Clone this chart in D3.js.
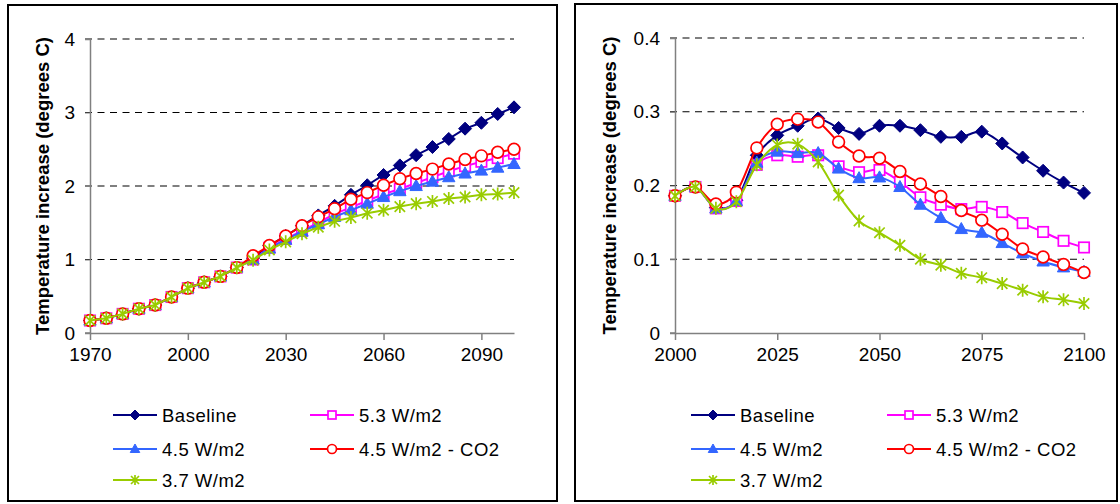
<!DOCTYPE html>
<html>
<head>
<meta charset="utf-8">
<script src="https://cdn.jsdelivr.net/npm/d3@7"></script>
<style>
  body { margin: 0; background: #fff; }
  svg { display: block; font-family: "Liberation Sans", Arial, sans-serif; }
</style>
</head>
<body>
<svg id="chart" width="1120" height="504"></svg>
<script>
// ---- data: left panel (temperature increase, 1970-2100) ----
const yearsA = [1970, 1975, 1980, 1985, 1990, 1995, 2000, 2005, 2010, 2015, 2020, 2025, 2030, 2035,
    2040, 2045, 2050, 2055, 2060, 2065, 2070, 2075, 2080, 2085, 2090, 2095, 2100];
const baselineA = [0.17, 0.20, 0.26, 0.33, 0.38, 0.49, 0.61, 0.69, 0.77, 0.89, 1.02, 1.19, 1.32, 1.46,
    1.60, 1.73, 1.88, 2.01, 2.15, 2.28, 2.42, 2.53, 2.64, 2.78, 2.86, 2.98, 3.07];
const w53A = [0.17, 0.20, 0.26, 0.33, 0.38, 0.49, 0.61, 0.69, 0.77, 0.89, 1.00, 1.16, 1.28, 1.39,
    1.50, 1.62, 1.71, 1.80, 1.89, 1.96, 2.04, 2.12, 2.20, 2.27, 2.33, 2.38, 2.44];
const w45A = [0.17, 0.20, 0.26, 0.33, 0.38, 0.49, 0.61, 0.69, 0.77, 0.89, 1.00, 1.15, 1.27, 1.38,
    1.48, 1.58, 1.67, 1.76, 1.85, 1.93, 2.00, 2.06, 2.12, 2.17, 2.21, 2.25, 2.30];
const co2A = [0.17, 0.20, 0.26, 0.33, 0.38, 0.49, 0.61, 0.69, 0.77, 0.89, 1.05, 1.19, 1.32, 1.46,
    1.58, 1.69, 1.82, 1.91, 2.01, 2.10, 2.17, 2.23, 2.30, 2.36, 2.41, 2.46, 2.50];
const w37A = [0.17, 0.20, 0.26, 0.33, 0.38, 0.49, 0.61, 0.69, 0.77, 0.89, 0.99, 1.13, 1.24, 1.35,
    1.44, 1.52, 1.57, 1.63, 1.67, 1.72, 1.76, 1.79, 1.83, 1.85, 1.88, 1.89, 1.91];
const xTicksA = [1970, 2000, 2030, 2060, 2090];
const yTicksA = [0, 1, 2, 3, 4];

// ---- data: right panel (2000-2100) ----
const yearsB = [2000, 2005, 2010, 2015, 2020, 2025, 2030, 2035, 2040, 2045, 2050,
    2055, 2060, 2065, 2070, 2075, 2080, 2085, 2090, 2095, 2100];
const baselineB = [0.186, 0.198, 0.170, 0.180, 0.241, 0.268, 0.281, 0.291, 0.278, 0.270, 0.281,
    0.281, 0.275, 0.266, 0.266, 0.273, 0.257, 0.238, 0.220, 0.204, 0.190];
const w53B = [0.186, 0.198, 0.169, 0.179, 0.228, 0.241, 0.239, 0.241, 0.226, 0.218, 0.221,
    0.205, 0.184, 0.174, 0.168, 0.171, 0.164, 0.149, 0.137, 0.125, 0.116];
const w45B = [0.186, 0.198, 0.169, 0.179, 0.231, 0.246, 0.244, 0.244, 0.223, 0.210, 0.211,
    0.198, 0.174, 0.156, 0.141, 0.136, 0.122, 0.108, 0.097, 0.089, 0.083];
const co2B = [0.186, 0.198, 0.175, 0.191, 0.251, 0.283, 0.290, 0.286, 0.259, 0.240, 0.237,
    0.219, 0.202, 0.185, 0.166, 0.153, 0.134, 0.114, 0.103, 0.093, 0.082];
const w37B = [0.186, 0.198, 0.169, 0.178, 0.228, 0.255, 0.256, 0.232, 0.187, 0.152, 0.136,
    0.119, 0.100, 0.092, 0.081, 0.075, 0.067, 0.058, 0.049, 0.045, 0.040];
const xTicksB = [2000, 2025, 2050, 2075, 2100];
const yTicksB = [0, 0.1, 0.2, 0.3, 0.4];

const seriesNames = ["Baseline", "5.3 W/m2", "4.5 W/m2", "4.5 W/m2 - CO2", "3.7 W/m2"];
const yLabel = "Temperature increase (degrees C)";

// series styles, in Excel drawing order
const styles = [
    { color: "#000080", marker: "diamond" },
    { color: "#FF00FF", marker: "square" },
    { color: "#3366FF", marker: "triangle" },
    { color: "#FF0000", marker: "circle" },
    { color: "#99CC00", marker: "star" }
];

const svg = d3.select("#chart");

function drawMarker(g, type, cx, cy, color, s) {
    if (type === "diamond") {
        g.append("path")
            .attr("d", `M${cx},${cy - s}L${cx + s},${cy}L${cx},${cy + s}L${cx - s},${cy}Z`)
            .attr("fill", color).attr("stroke", color).attr("stroke-width", 1);
    } else if (type === "square") {
        const h = s * 0.8;
        g.append("rect")
            .attr("x", cx - h).attr("y", cy - h).attr("width", 2 * h).attr("height", 2 * h)
            .attr("fill", "#fff").attr("stroke", color).attr("stroke-width", 1.7);
    } else if (type === "triangle") {
        g.append("path")
            .attr("d", `M${cx},${cy - s}L${cx + s * 0.95},${cy + s * 0.7}L${cx - s * 0.95},${cy + s * 0.7}Z`)
            .attr("fill", color).attr("stroke", color).attr("stroke-width", 1);
    } else if (type === "circle") {
        g.append("circle")
            .attr("cx", cx).attr("cy", cy).attr("r", s * 0.9)
            .attr("fill", "#fff").attr("stroke", color).attr("stroke-width", 1.7);
    } else if (type === "star") {
        const d = s * 0.8;
        g.append("path")
            .attr("d", `M${cx - d},${cy - d}L${cx + d},${cy + d}M${cx - d},${cy + d}L${cx + d},${cy - d}M${cx},${cy - s}L${cx},${cy + s}`)
            .attr("fill", "none").attr("stroke", color).attr("stroke-width", 1.7);
    }
}

function drawPanel(cfg) {
    const g = svg.append("g");

    // frame
    g.append("rect")
        .attr("x", cfg.frame[0]).attr("y", cfg.frame[1])
        .attr("width", cfg.frame[2]).attr("height", cfg.frame[3])
        .attr("fill", "#fff").attr("stroke", "#000").attr("stroke-width", 2);

    const x = d3.scaleLinear().domain(cfg.xDomain).range(cfg.xRange);
    const y = d3.scaleLinear().domain(cfg.yDomain).range(cfg.yRange);

    // dashed gridlines
    g.selectAll(".grid")
        .data(cfg.yTicks.filter(d => d > 0))
        .enter().append("line")
        .attr("x1", cfg.xRange[0] - 5).attr("x2", cfg.xRange[1])
        .attr("y1", d => y(d)).attr("y2", d => y(d))
        .attr("stroke", "#000").attr("stroke-width", 1.2)
        .attr("stroke-dasharray", "7,5.5");

    // y axis
    const yAxis = g.append("g")
        .attr("transform", `translate(${cfg.xRange[0]},0)`)
        .call(d3.axisLeft(y).tickValues(cfg.yTicks).tickSize(5).tickPadding(10)
            .tickFormat(d3.format("~g")));
    yAxis.select(".domain").attr("stroke", "#808080").attr("stroke-width", 1.5);
    yAxis.selectAll(".tick line").attr("stroke", "#808080");
    yAxis.selectAll(".tick text").attr("font-size", 19).attr("fill", "#000");

    // x axis
    const xAxis = g.append("g")
        .attr("transform", `translate(0,${cfg.yRange[0]})`)
        .call(d3.axisBottom(x).tickValues(cfg.xTicks).tickSize(7).tickSizeOuter(0).tickPadding(8)
            .tickFormat(d3.format("d")));
    xAxis.select(".domain").attr("stroke", "#808080").attr("stroke-width", 1.5);
    xAxis.selectAll(".tick line").attr("stroke", "#808080").attr("stroke-width", 1.5);
    xAxis.selectAll(".tick text").attr("font-size", 19).attr("fill", "#000");
    g.append("line")
        .attr("x1", cfg.xRange[0] - 5).attr("x2", cfg.xRange[0])
        .attr("y1", cfg.yRange[0]).attr("y2", cfg.yRange[0])
        .attr("stroke", "#808080").attr("stroke-width", 1.5);

    // y label
    g.append("text")
        .attr("transform", `translate(${cfg.labelX},${(cfg.yRange[0] + cfg.yRange[1]) / 2}) rotate(-90)`)
        .attr("text-anchor", "middle")
        .attr("dominant-baseline", "central")
        .attr("font-size", 18.5)
        .attr("font-weight", "bold")
        .text(yLabel);

    // series lines + markers
    const line = d3.line()
        .x(d => x(d[0]))
        .y(d => y(d[1]))
        .curve(cfg.curve);

    cfg.series.forEach((vals, i) => {
        const st = styles[i];
        const pts = cfg.years.map((yr, j) => [yr, vals[j]]);
        g.append("path")
            .attr("d", line(pts))
            .attr("fill", "none")
            .attr("stroke", st.color)
            .attr("stroke-width", 2);
        const mg = g.append("g");
        pts.forEach(p => drawMarker(mg, st.marker, x(p[0]), y(p[1]), st.color, 6.5));
    });

    // legend (2 columns, row-major)
    seriesNames.forEach((name, i) => {
        const col = i % 2, row = Math.floor(i / 2);
        const lx = cfg.legendX[col];
        const ly = cfg.legendY[row];
        const st = styles[i];
        g.append("line")
            .attr("x1", lx).attr("x2", lx + 44)
            .attr("y1", ly).attr("y2", ly)
            .attr("stroke", st.color).attr("stroke-width", 2);
        drawMarker(g, st.marker, lx + 22, ly, st.color, 5);
        g.append("text")
            .attr("x", lx + 49).attr("y", ly)
            .attr("dominant-baseline", "central")
            .attr("font-size", 18.5)
            .attr("letter-spacing", 0.5)
            .text(name);
    });
}

drawPanel({
    frame: [8, 5, 549, 496],
    xDomain: [1970, 2100], xRange: [90, 514],
    yDomain: [0, 4], yRange: [333, 39],
    xTicks: xTicksA, yTicks: yTicksA,
    labelX: 42,
    years: yearsA,
    series: [baselineA, w53A, w45A, co2A, w37A],
    curve: d3.curveLinear,
    legendX: [113, 310],
    legendY: [415, 449, 480]
});

drawPanel({
    frame: [575, 4, 542, 497],
    xDomain: [2000, 2100], xRange: [675, 1084],
    yDomain: [0, 0.4], yRange: [333, 38],
    xTicks: xTicksB, yTicks: yTicksB,
    labelX: 609,
    years: yearsB,
    series: [baselineB, w53B, w45B, co2B, w37B],
    curve: d3.curveCatmullRom.alpha(0),
    legendX: [691, 887],
    legendY: [415, 449, 480]
});
</script>
</body>
</html>
